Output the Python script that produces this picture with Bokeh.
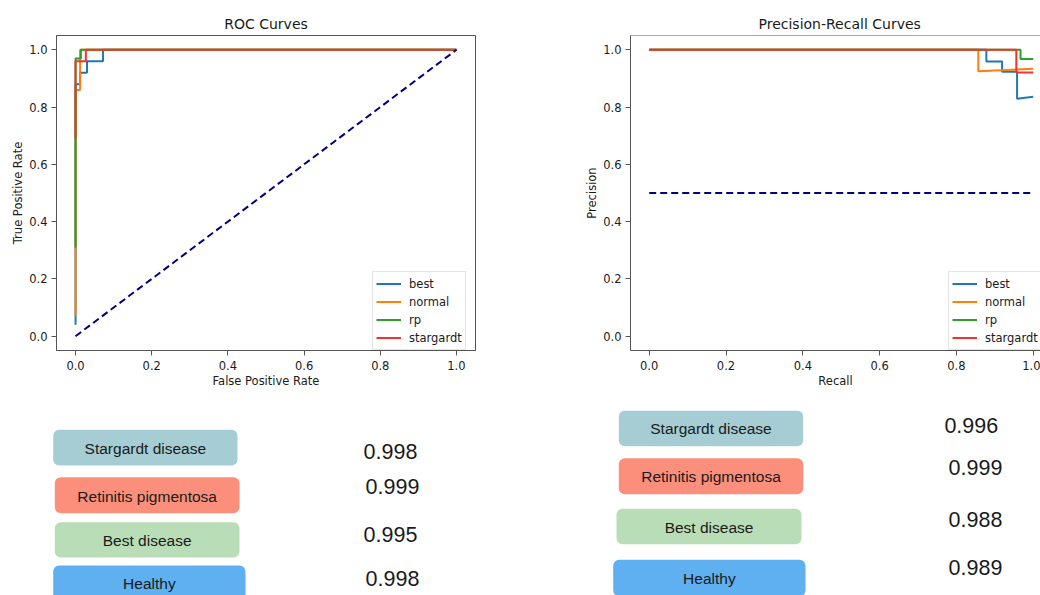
from bokeh.plotting import figure
from bokeh.layouts import column, row
from bokeh.models import (Range1d, FixedTicker, PrintfTickFormatter, Legend,
                          LegendItem, Span, ColumnDataSource)
from bokeh.embed import file_html
from bokeh.resources import INLINE
from bokeh.core.properties import value

# ---------------- data ----------------
classes = ["best", "normal", "rp", "stargardt"]
line_colors = ["#1f77b4", "#ff7f0e", "#2ca02c", "#f5332b"]

# ROC curves (false positive rate, true positive rate)
best_fpr = [0.0, 0.0, 0.012, 0.012, 0.03, 0.03, 0.072, 0.072, 1.0]
best_tpr = [0.04, 0.88, 0.88, 0.92, 0.92, 0.96, 0.96, 1.0, 1.0]
normal_fpr = [0.0, 0.0, 0.012, 0.012, 1.0]
normal_tpr = [0.07, 0.86, 0.86, 1.0, 1.0]
rp_fpr = [0.0, 0.0, 0.014, 0.014, 1.0]
rp_tpr = [0.31, 0.97, 0.97, 1.0, 1.0]
stargardt_fpr = [0.0, 0.0, 0.027, 0.027, 1.0]
stargardt_tpr = [0.69, 0.96, 0.96, 1.0, 1.0]
chance_roc_x = [0.0, 1.0]
chance_roc_y = [0.0, 1.0]

# Precision-recall curves (recall, precision)
best_recall = [0.0, 0.878, 0.878, 0.919, 0.919, 0.958, 0.958, 1.0]
best_precision = [1.0, 1.0, 0.959, 0.959, 0.923, 0.923, 0.829, 0.836]
normal_recall = [0.0, 0.857, 0.857, 1.0]
normal_precision = [1.0, 1.0, 0.925, 0.934]
rp_recall = [0.0, 0.967, 0.967, 1.0]
rp_precision = [1.0, 1.0, 0.968, 0.968]
stargardt_recall = [0.0, 0.956, 0.956, 1.0]
stargardt_precision = [1.0, 1.0, 0.921, 0.921]
chance_pr_x = [0.0, 1.0]
chance_pr_y = [0.5, 0.5]

tick_values = [0.0, 0.2, 0.4, 0.6, 0.8, 1.0]

# AUC tables
diseases = ["Stargardt disease", "Retinitis pigmentosa", "Best disease", "Healthy"]
roc_auc = [0.998, 0.999, 0.995, 0.998]
pr_auc = [0.996, 0.999, 0.988, 0.989]
box_colors = ["#a5cdd3", "#fb8f7b", "#b8ddb7", "#5fb0f1"]

# ---------------- layout constants (page pixels) ----------------
TOP_H = 410
L_box_left = [52.7, 54.3, 54.3, 52.7]
L_box_right = [237.0, 239.0, 239.0, 245.0]
L_box_top = [429.3, 476.7, 521.7, 565.0]
L_box_bottom = [465.0, 512.7, 557.0, 605.0]
L_text_y = [448.0, 495.8, 539.8, 582.6]
L_num_x = [390.0, 392.0, 390.0, 392.0]
L_num_mid = [450.5, 486.3, 534.3, 578.0]

R_box_left = [618.3, 618.3, 616.0, 612.7]
R_box_right = [802.7, 802.7, 801.0, 805.0]
R_box_top = [410.0, 457.7, 508.3, 559.3]
R_box_bottom = [445.7, 493.7, 543.7, 596.0]
R_text_y = [428.3, 475.8, 526.5, 577.6]
R_num_x = [970.8, 975.0, 975.0, 975.0]
R_num_mid = [425.2, 467.0, 518.8, 567.2]

FONT = "DejaVu Sans"
TXT = "#1a1a1a"
SPINE = "#555555"


def style_axes(p, xlabel, ylabel):
    p.xaxis.axis_label = xlabel
    p.yaxis.axis_label = ylabel
    for ax in p.axis:
        ax.ticker = FixedTicker(ticks=tick_values, minor_ticks=[])
        ax.formatter = PrintfTickFormatter(format="%.1f")
        ax.axis_label_text_font = FONT
        ax.axis_label_text_font_size = "11.5px"
        ax.axis_label_text_font_style = "normal"
        ax.axis_label_text_color = TXT
        ax.major_label_text_font = FONT
        ax.major_label_text_font_size = "11.5px"
        ax.major_label_text_color = TXT
        ax.major_tick_out = 5
        ax.major_tick_in = 0
        ax.minor_tick_out = 0
        ax.minor_tick_in = 0
        ax.axis_line_color = SPINE
        ax.major_tick_line_color = SPINE
    p.xaxis.major_label_standoff = 5
    p.xaxis.axis_label_standoff = 1
    p.yaxis.major_label_standoff = 4
    p.yaxis.axis_label_standoff = 1
    p.xgrid.visible = False
    p.ygrid.visible = False


def style_title(p, text, align, offset=0):
    p.title.text = text
    p.title.text_font = FONT
    p.title.text_font_size = "14px"
    p.title.text_font_style = "normal"
    p.title.text_color = TXT
    p.title.align = align
    p.title.offset = offset
    p.title.standoff = 7


def make_legend(p, renderers, loc):
    items = [LegendItem(label=c, renderers=[r]) for c, r in zip(classes, renderers)]
    lg = Legend(items=items, location=loc)
    lg.label_text_font = FONT
    lg.label_text_font_size = "11.5px"
    lg.label_text_color = TXT
    lg.glyph_width = 25
    lg.glyph_height = 17
    lg.label_height = 17
    lg.label_standoff = 8
    lg.padding = 3
    lg.spacing = 1
    lg.margin = 0
    lg.border_line_color = "#cccccc"
    lg.border_line_width = 1
    lg.background_fill_alpha = 0.8
    p.add_layout(lg)


# ---------------- ROC figure ----------------
roc = figure(width=568, height=TOP_H, output_backend="svg", toolbar_location=None,
             x_range=Range1d(-0.05, 1.05), y_range=Range1d(-0.05, 1.05),
             min_border_left=56, min_border_right=93, min_border_top=35,
             min_border_bottom=TOP_H - 353)
roc.outline_line_color = SPINE
style_title(roc, "ROC Curves", "center")
style_axes(roc, "False Positive Rate", "True Positive Rate")

roc_x = [best_fpr, normal_fpr, rp_fpr, stargardt_fpr]
roc_y = [best_tpr, normal_tpr, rp_tpr, stargardt_tpr]
roc_r = []
for xs, ys, c in zip(roc_x, roc_y, line_colors):
    roc_r.append(roc.line(xs, ys, line_color=c, line_width=2))
roc.line(chance_roc_x, chance_roc_y, line_color="#000080", line_width=2,
         line_dash="7 4")
make_legend(roc, roc_r, (316, 0))

# ---------------- PR figure ----------------
pr = figure(width=472, height=TOP_H, output_backend="svg", toolbar_location=None,
            x_range=Range1d(-0.0487, 1.019), y_range=Range1d(-0.05, 1.05),
            min_border_left=62, min_border_right=0, min_border_top=35,
            min_border_bottom=TOP_H - 350)
pr.outline_line_color = None
pr.add_layout(Span(location=1.05, dimension="width", line_color=SPINE, line_width=1))
style_title(pr, "Precision-Recall Curves", "left", 128)
style_axes(pr, "Recall", "Precision")

pr_x = [best_recall, normal_recall, rp_recall, stargardt_recall]
pr_y = [best_precision, normal_precision, rp_precision, stargardt_precision]
pr_r = []
for xs, ys, c in zip(pr_x, pr_y, line_colors):
    pr_r.append(pr.line(xs, ys, line_color=c, line_width=2))
pr.line(chance_pr_x, chance_pr_y, line_color="#000080", line_width=2, line_dash="7 4")
make_legend(pr, pr_r, (318, 0))

# ---------------- AUC boxes ----------------
bottom = figure(width=1040, height=595 - TOP_H, output_backend="svg", toolbar_location=None,
                x_range=Range1d(0, 1040), y_range=Range1d(595, TOP_H),
                x_axis_location=None, y_axis_location=None, min_border=0)
bottom.outline_line_color = None
bottom.xgrid.visible = False
bottom.ygrid.visible = False


def table(xl, xr, yt, yb, ty, nx, ny, vals):
    src = ColumnDataSource(dict(
        left=xl, right=xr, top=yt, bottom=yb, color=box_colors,
        cx=[(a + b) / 2 for a, b in zip(xl, xr)], ty=ty, label=diseases,
        nx=nx, ny=ny, num=[f"{v:.3f}" for v in vals]))
    bottom.quad(left="left", right="right", top="top", bottom="bottom",
                fill_color="color", line_color=None, border_radius=6, source=src)
    bottom.text(x="cx", y="ty", text="label", source=src, text_align="center",
                text_baseline="middle", text_font=value("Liberation Sans"),
                text_font_size="15.5px", text_color=TXT)
    bottom.text(x="nx", y="ny", text="num", source=src, text_align="center",
                text_baseline="middle", text_font=value("Liberation Sans"),
                text_font_size="21.5px", text_color=TXT)


table(L_box_left, L_box_right, L_box_top, L_box_bottom, L_text_y, L_num_x, L_num_mid, roc_auc)
table(R_box_left, R_box_right, R_box_top, R_box_bottom, R_text_y, R_num_x, R_num_mid, pr_auc)

layout = column(row(roc, pr), bottom)
open("out.html", "w").write(file_html(layout, INLINE))
